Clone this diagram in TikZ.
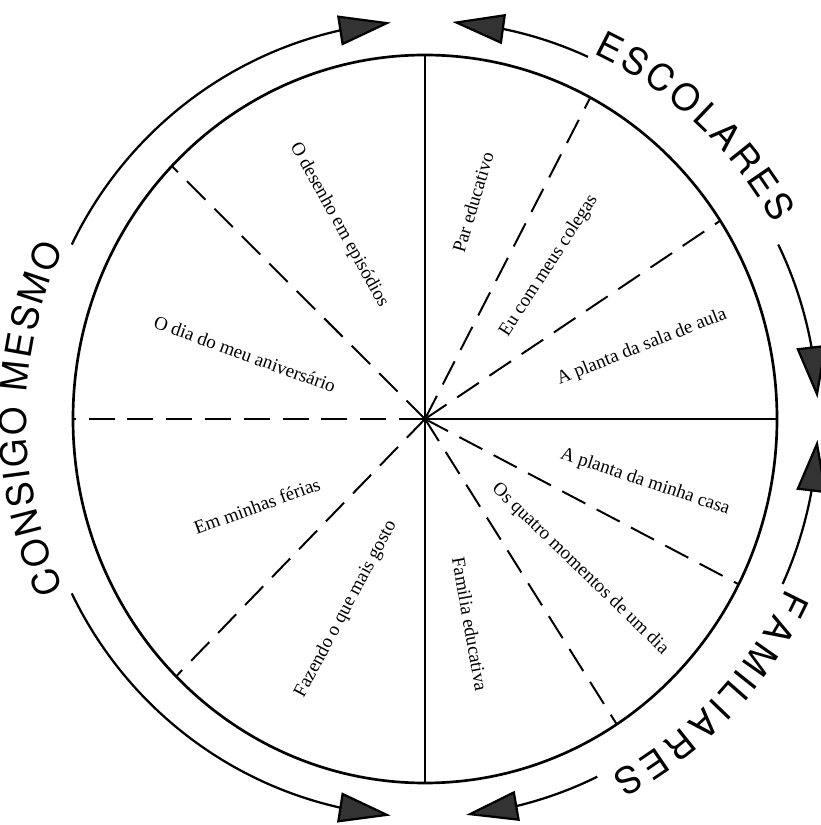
\documentclass[tikz,border=0pt]{standalone}
\usepackage{fontspec}
\setmainfont{Liberation Serif}
\newfontfamily\ringfont{TeX Gyre Heros}
\usetikzlibrary{arrows.meta, bending, decorations.text}

\begin{document}
\begin{tikzpicture}[x=0.25mm, y=0.25mm,
  ring/.style={line width=1.9pt},
  ray/.style={line width=1.4pt},
  dashray/.style={line width=1.4pt, dash pattern=on 6.5mm off 3.2mm},
  outer/.style={line width=1.6pt, -{Triangle[length=13mm, width=7.5mm, fill=black!80]}},
  lbl/.style={font=\fontsize{13.5}{15}\selectfont, inner sep=0pt},
  ringtext/.style={decorate, decoration={text effects along path, text={#1},
    text effects/.cd, text along path, fit text to path,
    characters={font=\ringfont\fontsize{26}{26}\selectfont, anchor=center}}}]
\useasboundingbox (-425,-406) rectangle (395,419);
% Centre of the wheel
\coordinate (o) at (0,0);
% Ends of the spokes on the inner ring
\coordinate (n) at (90:352 and 364);
\coordinate (s) at (270:352 and 364);
\coordinate (e) at (0:352 and 364);
\coordinate (w) at (180:352 and 364);
\coordinate (nw) at (136:352 and 364);
\coordinate (sw) at (225:352 and 364);
\coordinate (ne1) at (62:352 and 364);
\coordinate (ne2) at (33:352 and 364);
\coordinate (se1) at (-27:352 and 364);
\coordinate (se2) at (-57:352 and 364);
% Inner ring
\draw[ring] (o) ellipse [x radius=352, y radius=364];
% Solid spokes between the three groups
\draw[ray] (o) -- (n);
\draw[ray] (o) -- (s);
\draw[ray] (o) -- (e);
% Dashed spokes inside each group
\draw[dashray] (o) -- (nw);
\draw[dashray] (o) -- (w);
\draw[dashray] (o) -- (sw);
\draw[dashray] (o) -- (ne1);
\draw[dashray] (o) -- (ne2);
\draw[dashray] (o) -- (se1);
\draw[dashray] (o) -- (se2);

% Outer arcs with arrows
\draw[outer] (154:393 and 398) arc [start angle=154, end angle=95, x radius=393, y radius=398];
\draw[outer] (65.5:393 and 398) arc [start angle=65.5, end angle=86, x radius=393, y radius=398];
\draw[outer] (26:393 and 398) arc [start angle=26, end angle=3, x radius=393, y radius=398];
\draw[outer] (-24.5:393 and 398) arc [start angle=-24.5, end angle=-3, x radius=393, y radius=398];
\draw[outer] (-64:393 and 398) arc [start angle=-64, end angle=-84, x radius=393, y radius=398];
\draw[outer] (206:393 and 398) arc [start angle=206, end angle=265, x radius=393, y radius=398];

% Group names along the ring
\path[ringtext={CONSIGO MESMO}] (205:412 and 416) arc [start angle=205, end angle=155, x radius=412, y radius=416];
\path[ringtext={ESCOLARES}] (65:412 and 416) arc [start angle=65, end angle=29, x radius=412, y radius=416];
\path[ringtext={FAMILIARES}] (-25:412 and 416) arc [start angle=-25, end angle=-62, x radius=412, y radius=416];

% Sector labels
\node[lbl, rotate=-61] (desenho) at (-86,194) {O desenho em episódios};
\node[lbl, rotate=-20] (aniver) at (-180,65) {O dia do meu aniversário};
\node[lbl, rotate=20] (ferias) at (-168,-87) {Em minhas férias};
\node[lbl, rotate=62] (gosto) at (-79,-190) {Fazendo o que mais gosto};
\node[lbl, rotate=-80] (familia) at (45,-205) {Familia educativa};
\node[lbl, rotate=-44] (momentos) at (155,-150) {Os quatro momentos de um dia};
\node[lbl, rotate=-18.5] (casa) at (220,-63) {A planta da minha casa};
\node[lbl, rotate=21.5] (aula) at (217,72) {A planta da sala de aula};
\node[lbl, rotate=57] (colegas) at (124,153) {Eu com meus colegas};
\node[lbl, rotate=73.5] (par) at (48,217) {Par educativo};
\end{tikzpicture}
\end{document}
